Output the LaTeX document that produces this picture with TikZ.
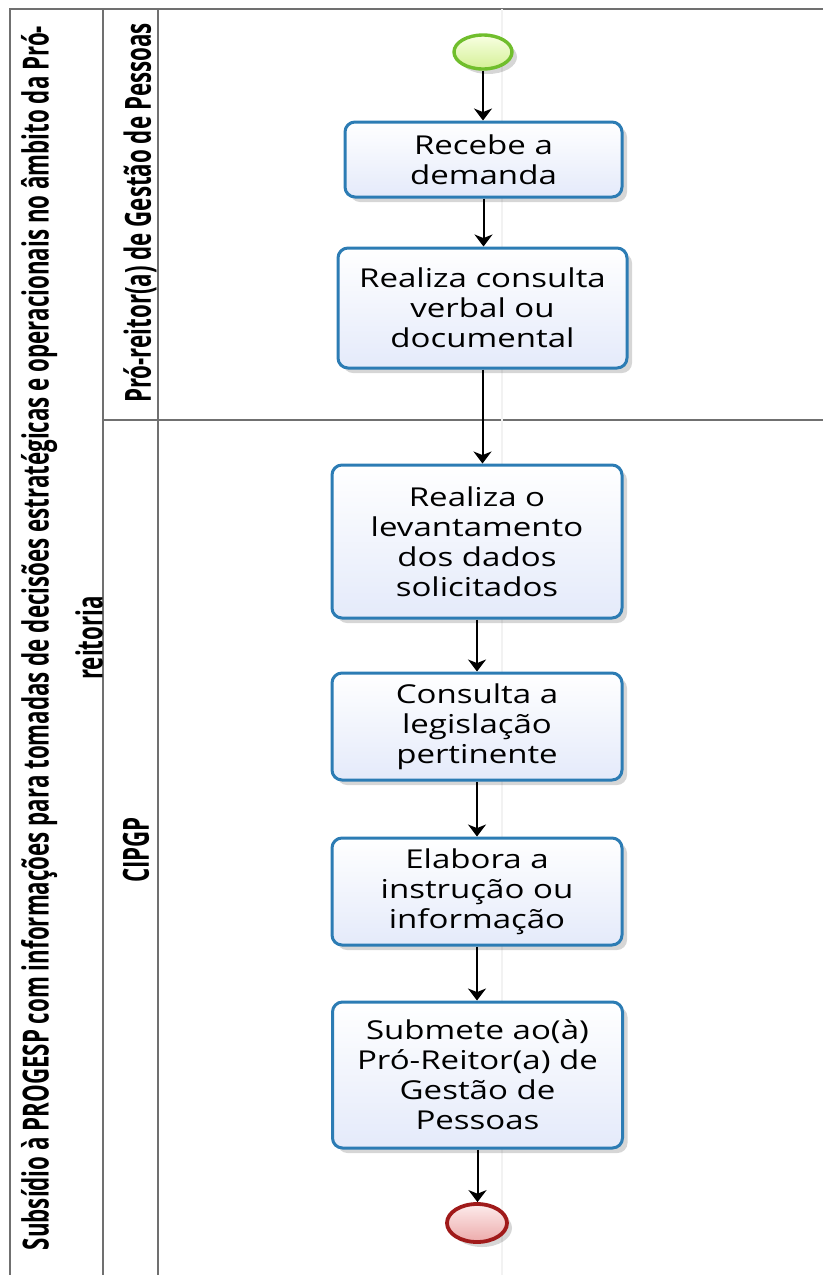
\documentclass[tikz,border=0pt]{standalone}
\usepackage{fontspec}
\setmainfont{Open Sans}
\newfontfamily\taskfont[FakeStretch=1.27]{Open Sans}
\newfontfamily\titlefont[FakeStretch=0.62]{Open Sans}
\usetikzlibrary{arrows.meta,shapes.geometric,shadows}

\definecolor{poolgray}{RGB}{112,112,112}
\definecolor{taskblue}{RGB}{44,124,180}
\definecolor{taskfill}{RGB}{228,234,250}
\definecolor{startline}{RGB}{112,190,44}
\definecolor{starttop}{RGB}{248,255,226}
\definecolor{startbot}{RGB}{212,240,150}
\definecolor{endline}{RGB}{160,26,26}
\definecolor{endtop}{RGB}{253,236,236}
\definecolor{endbot}{RGB}{236,170,170}

\begin{document}
\begin{tikzpicture}[x=0.5pt,y=-0.5pt,
  laneline/.style={draw=poolgray, line width=1pt},
  softshadow/.style={drop shadow={shadow xshift=2.5pt, shadow yshift=-2.5pt, fill=black, opacity=0.16}},
  task/.style={draw=taskblue, line width=1.5pt, rounded corners=5pt,
    top color=white, bottom color=taskfill, softshadow,
    minimum width=145pt, align=center, inner sep=0pt,
    font=\taskfont\fontsize{13}{15}\selectfont},
  startev/.style={ellipse, draw=startline, line width=1.7pt,
    top color=starttop, bottom color=startbot, softshadow,
    minimum width=29pt, minimum height=17pt, inner sep=0pt},
  endev/.style={ellipse, draw=endline, line width=1.9pt,
    top color=endtop, bottom color=endbot, softshadow,
    minimum width=30pt, minimum height=19pt, inner sep=0pt},
  flow/.style={draw=black, line width=1pt,
    -{Stealth[length=6pt,width=9pt,inset=1.8pt]}},
  headtext/.style={rotate=90, align=center,
    font=\titlefont\bfseries\fontsize{18}{27}\selectfont}
]
\useasboundingbox (0,0) rectangle (823,1275);

% pool and lane borders
\draw[laneline] (823,9) -- (10,9) -- (10,1275);
\draw[laneline] (103,9) -- (103,1275);
\draw[laneline] (158,9) -- (158,1275);
\draw[laneline] (103,420) -- (823,420);
% page break guide
\draw[gray!10, line width=0.6pt] (502,9) -- (502,1275);

% pool and lane headers
\node[headtext] (pool) at (62,638)
  {Subsídio à PROGESP com informações para tomadas de decisões estratégicas e operacionais no âmbito da Pró-\\reitoria};
\node[headtext] (laneA) at (140,213) {Pró-reitor(a) de Gestão de Pessoas};
\node[headtext] (laneB) at (136,850) {CIPGP};

% events and tasks
\node[startev] (start) at (483,52) {};
\node[task, minimum width=138.5pt, minimum height=37.5pt] (t1) at (483.5,159.5) {Recebe a\\demanda};
\node[task, minimum width=144.5pt, minimum height=60pt] (t2) at (482.5,308) {Realiza consulta\\verbal ou\\documental};
\node[task, minimum height=76.5pt] (t3) at (477,541.5) {Realiza o\\levantamento\\dos dados\\solicitados};
\node[task, minimum height=53.5pt] (t4) at (477,726.5) {Consulta a\\legislação\\pertinente};
\node[task, minimum height=53.5pt] (t5) at (477,891.5) {Elabora a\\instrução ou\\informação};
\node[task, minimum height=73pt] (t6) at (477.5,1075) {Submete ao(à)\\Pró-Reitor(a) de\\Gestão de\\Pessoas};
\node[endev] (end) at (477,1223) {};

% sequence flows
\draw[flow] (start.south) -- (start.south |- t1.north);
\draw[flow] (t1.south) -- (t1.south |- t2.north);
\draw[flow] (t2.south) -- (t2.south |- t3.north);
\draw[flow] (t3.south) -- (t3.south |- t4.north);
\draw[flow] (t4.south) -- (t4.south |- t5.north);
\draw[flow] (t5.south) -- (t5.south |- t6.north);
\draw[flow] (t6.south) -- (t6.south |- end.north);
\end{tikzpicture}
\end{document}
